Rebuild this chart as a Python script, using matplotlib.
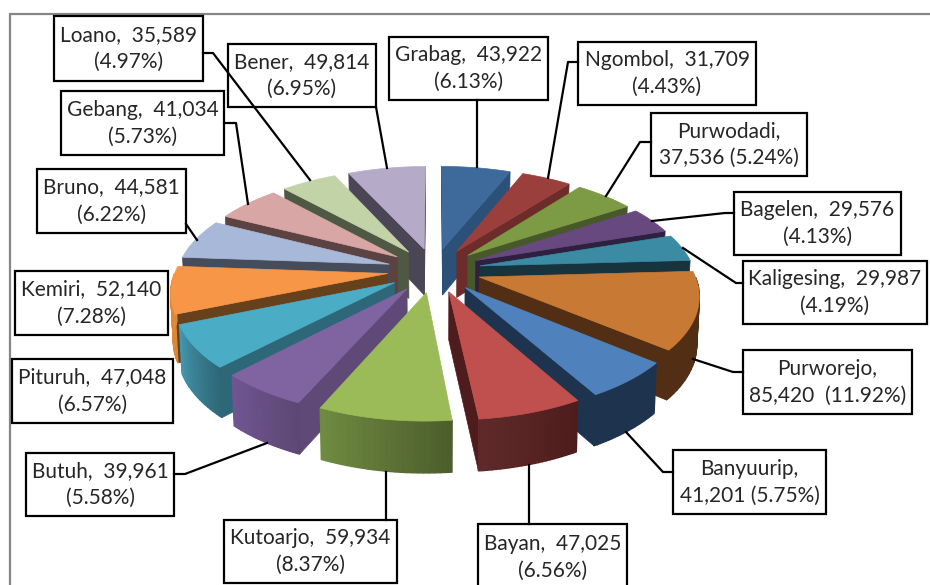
import math
import matplotlib
matplotlib.use("Agg")
import matplotlib.pyplot as plt
from matplotlib.colors import to_rgb

plt.rcParams['font.family'] = ['Lato', 'DejaVu Sans']

# data, clockwise from 12 o'clock
names = ['Grabag', 'Ngombol', 'Purwodadi', 'Bagelen', 'Kaligesing', 'Purworejo',
         'Banyuurip', 'Bayan', 'Kutoarjo', 'Butuh', 'Pituruh', 'Kemiri',
         'Bruno', 'Gebang', 'Loano', 'Bener']
values = [43922, 31709, 37536, 29576, 29987, 85420,
          41201, 47025, 59934, 39961, 47048, 52140,
          44581, 41034, 35589, 49814]
percents = ['6.13', '4.43', '5.24', '4.13', '4.19', '11.92',
            '5.75', '6.56', '8.37', '5.58', '6.57', '7.28',
            '6.22', '5.73', '4.97', '6.95']

top_colors = ['#3E6A9B', '#9A3F3C', '#7D9A44', '#67497F', '#3A8BA3', '#C87A34',
              '#4F81BD', '#C0504D', '#9BBB59', '#8064A2', '#4BACC6', '#F79646',
              '#A7B8D8', '#D7A6A5', '#C3D3A8', '#B5ABC8']
wall_colors = ['#2C5179', '#6B2C2A', '#47592A', '#2E2140', '#17343E', '#522F14',
               '#1E344E', '#4E1C1C', '#4C5E2C', '#5F4976', '#2E6878', '#67401C',
               '#454C5C', '#5A4342', '#4F5842', '#4B4656']
# outer rim colour at its start and end (clockwise)
rim_start = ['#2C5179', '#6B2C2A', '#47592A', '#2E2140', '#17343E', '#522F14',
             '#1E344E', '#4E1C1C', '#4C5E2C', '#5D4875', '#2E6878', '#D98636',
             '#454C5C', '#5A4342', '#4F5842', '#4B4656']
rim_end = ['#2C5179', '#6B2C2A', '#47592A', '#2E2140', '#17343E', '#522F14',
           '#1E344E', '#602A2A', '#708C42', '#705692', '#4597AF', '#E08A3C',
           '#454C5C', '#5A4342', '#4F5842', '#4B4656']

# label boxes: left, top, right, bottom in pixels
boxes = [(389, 37, 548, 100), (578, 42, 756, 105), (651, 113, 807, 176),
         (734, 192, 901, 255), (743, 261, 927, 324), (743, 350, 912, 414),
         (673, 450, 826, 514), (478, 524, 627, 590), (224, 520, 397, 583),
         (26, 453, 174, 516), (12, 359, 173, 423), (15, 271, 168, 335),
         (37, 169, 186, 233), (61, 91, 224, 155), (54, 16, 203, 81),
         (228, 44, 376, 107)]
leaders = [[(477, 100), (477, 167)],
           [(578, 62), (568, 62), (548, 178)],
           [(651, 142), (640, 142), (606, 196)],
           [(734, 213), (725, 213), (652, 221)],
           [(743, 283), (736, 283), (683, 248)],
           [(743, 372), (733, 372), (693, 359)],
           [(673, 472), (663, 472), (626, 432)],
           [(529, 524), (529, 465)],
           [(386, 520), (386, 472)],
           [(174, 474), (185, 474), (267, 443)],
           [],
           [],
           [(186, 224), (197, 240)],
           [(224, 123), (236, 123), (248, 204)],
           [(203, 53), (213, 53), (310, 180)],
           [(376, 107), (387, 168)]]
name_on_own_line = ['Purwodadi', 'Purworejo', 'Banyuurip']

# projection of the tilted pie
CX, CY = 434, 270
A_LEFT, A_RIGHT = 212, 214
B = 101
K = 0.153
EXPLODE = 0.22


def project(u, v):
    s = 1 / (1 - K * v)
    a = A_LEFT if u < 0 else A_RIGHT
    return CX + a * u * s, CY + B * v * s


def drop(x, v):
    # pie thickness in pixels grows toward the viewer
    return CX + (x - CX) * 0.99, 47 + 4 * v


def wall_point(u, v):
    x, y = project(u, v)
    bx, d = drop(x, v)
    return bx, y + d


def mix(c1, c2, t):
    a, b = to_rgb(c1), to_rgb(c2)
    return tuple(a[i] + (b[i] - a[i]) * t for i in range(3))


def cross(p, q):
    return p[0] * q[1] - p[1] * q[0]


fig = plt.figure(figsize=(9.3, 5.85), dpi=100)
ax = fig.add_axes([0, 0, 1, 1])
ax.set_xlim(0, 930)
ax.set_ylim(585, 0)
ax.axis('off')

# chart frame
ax.plot([10, 10, 930], [585, 14, 14], color='#868686', lw=1.6, solid_joinstyle='miter')

total = sum(values)
slices = []
start = 0.0
for i, val in enumerate(values):
    sweep = 2 * math.pi * val / total
    slices.append((i, start, start + sweep))
    start += sweep


def mid_depth(sl):
    mid = (sl[1] + sl[2]) / 2
    return -math.cos(mid)


# back slices first
for i, a0, a1 in sorted(slices, key=mid_depth):
    mid = (a0 + a1) / 2
    tu, tv = EXPLODE * math.sin(mid), -EXPLODE * math.cos(mid)
    steps = 24
    angles = [a0 + (a1 - a0) * k / steps for k in range(steps + 1)]
    rim = [(tu + math.sin(a), tv - math.cos(a)) for a in angles]

    tip = project(tu, tv)
    first = project(*rim[0])
    last = project(*rim[-1])

    # straight side walls, only those facing the viewer
    for end, other in ((rim[0], last), (rim[-1], first)):
        p = project(*end)
        edge = (p[0] - tip[0], p[1] - tip[1])
        to_other = (other[0] - tip[0], other[1] - tip[1])
        if cross(edge, to_other) * cross(edge, (0, 1)) < 0:
            q0, q1 = wall_point(*end), wall_point(tu, tv)
            ax.fill([tip[0], p[0], q0[0], q1[0]], [tip[1], p[1], q0[1], q1[1]],
                    color=wall_colors[i], lw=0.5)

    # outer rim, in strips for the shading
    for k in range(steps):
        a = (angles[k] + angles[k + 1]) / 2
        if -math.cos(a) < 0.0:
            continue
        p0, p1 = project(*rim[k]), project(*rim[k + 1])
        q0, q1 = wall_point(*rim[k]), wall_point(*rim[k + 1])
        col = mix(rim_start[i], rim_end[i], k / steps)
        ax.fill([p0[0], p1[0], q1[0], q0[0]], [p0[1], p1[1], q1[1], q0[1]],
                color=col, lw=1.0)

    # top face
    top = [tip] + [project(*r) for r in rim]
    ax.fill([p[0] for p in top], [p[1] for p in top], color=top_colors[i], lw=0.5)

# label boxes
for i, name in enumerate(names):
    x0, y0, x1, y1 = boxes[i]
    ax.fill([x0, x1, x1, x0], [y0, y0, y1, y1], facecolor='white', edgecolor='black',
            lw=1.6, zorder=5)
    if name in name_on_own_line:
        gap = '  ' if name == 'Purworejo' else ' '
        label = f"{name},\n{values[i]:,}{gap}({percents[i]}%)"
    else:
        label = f"{name},  {values[i]:,}\n({percents[i]}%)"
    ax.text((x0 + x1) / 2, (y0 + y1) / 2, label, ha='center', va='center', fontsize=15,
            color='#262626', linespacing=1.43, zorder=7)

# leader lines cross over the boxes
for line in leaders:
    if line:
        ax.plot([p[0] for p in line], [p[1] for p in line], color='black', lw=1.6, zorder=6)

fig.savefig('out.png', dpi=100)
